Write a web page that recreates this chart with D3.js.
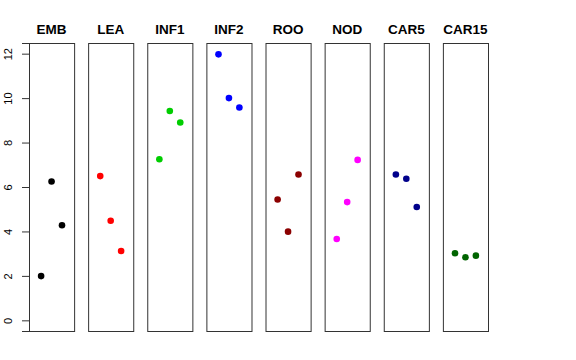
<!DOCTYPE html>
<html>
<head>
<meta charset="utf-8">
<script src="https://d3js.org/d3.v7.min.js"></script>
<style>
  body { margin: 0; background: #fff; }
  text { font-family: "Liberation Sans", Arial, sans-serif; }
  .title { font-weight: bold; font-size: 13.5px; }
  .tick text { font-size: 11px; }
</style>
</head>
<body>
<svg width="576" height="360"></svg>
<script>
// panel names and colours
var groups = ["EMB", "LEA", "INF1", "INF2", "ROO", "NOD", "CAR5", "CAR15"];
var colours = ["#000000", "#FF0000", "#00CD00", "#0000FF", "#8B0000", "#FF00FF", "#00008B", "#006400"];
// three values per panel, drawn at positions 1, 2, 3
var positions = [1, 2, 3];
var values = [
  [1.99, 6.25, 4.28],
  [6.49, 4.48, 3.12],
  [7.25, 9.42, 8.90],
  [11.97, 10.00, 9.58],
  [5.44, 3.99, 6.56],
  [3.66, 5.32, 7.22],
  [6.56, 6.37, 5.10],
  [3.02, 2.84, 2.91]
];
var yTicks = [0, 2, 4, 6, 8, 10, 12];

var svg = d3.select("svg");

var y = d3.scaleLinear().domain([-0.48, 12.48]).range([331, 43]);
var panel = d3.scaleBand().domain(groups).range([29, 488]).paddingInner(0.237);
var xin = d3.scaleLinear().domain([-0.16, 4.16]).range([0, panel.bandwidth()]);

// y axis on the left of the first panel, labels turned vertical
var axis = svg.append("g")
  .attr("transform", "translate(" + panel(groups[0]) + ",0)")
  .call(d3.axisLeft(y).tickValues(yTicks).tickSize(7).tickFormat(d3.format("d")));
axis.select(".domain").attr("stroke", "#333");
axis.selectAll(".tick line").attr("stroke", "#333");
axis.selectAll(".tick text")
  .attr("fill", "#000")
  .attr("text-anchor", "middle")
  .attr("x", 0)
  .attr("y", 0)
  .attr("dy", null)
  .attr("transform", "translate(-17,0) rotate(-90)");

// one panel per group
var g = svg.selectAll(".panel")
  .data(groups)
  .enter().append("g")
  .attr("class", "panel")
  .attr("transform", function(d) { return "translate(" + panel(d) + ",0)"; });

g.append("rect")
  .attr("x", 0.5)
  .attr("y", y(12.48) + 0.5)
  .attr("width", panel.bandwidth())
  .attr("height", y(-0.48) - y(12.48))
  .attr("fill", "none")
  .attr("stroke", "#333")
  .attr("stroke-width", 1);

g.append("text")
  .attr("class", "title")
  .attr("x", panel.bandwidth() / 2)
  .attr("y", 34)
  .attr("text-anchor", "middle")
  .text(function(d) { return d; });

g.selectAll("circle")
  .data(function(d, i) { return values[i].map(function(v, j) { return {v: v, p: positions[j], c: colours[i]}; }); })
  .enter().append("circle")
  .attr("cx", function(d) { return xin(d.p); })
  .attr("cy", function(d) { return y(d.v); })
  .attr("r", 3.3)
  .attr("fill", function(d) { return d.c; });
</script>
</body>
</html>
